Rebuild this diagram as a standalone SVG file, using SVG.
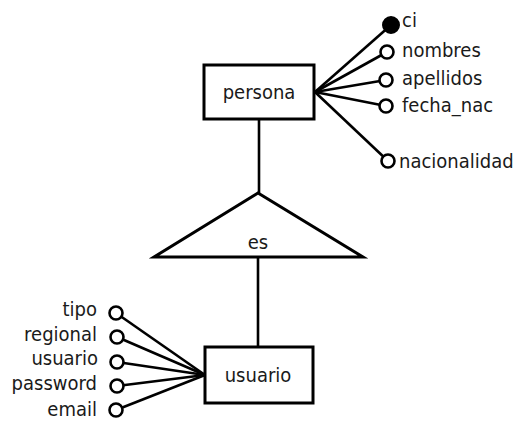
<svg xmlns="http://www.w3.org/2000/svg" width="520" height="421" viewBox="0 0 520 421">
  <style>
    .box { fill: #fff; stroke: #000; stroke-width: 3; }
    .tri { fill: #fff; stroke: #000; stroke-width: 3; stroke-linejoin: miter; }
    .edge { stroke: #000; stroke-width: 2.6; fill: none; }
    .attr { fill: #fff; stroke: #000; stroke-width: 2.6; }
    .key { fill: #000; stroke: #000; stroke-width: 2; }
    text { font-family: "DejaVu Sans Condensed", "DejaVu Sans", sans-serif; font-stretch: condensed; font-size: 20px; fill: #1a1a1a; }
    .mid { text-anchor: middle; }
    .end { text-anchor: end; }
  </style>
  <rect width="520" height="421" fill="#fff"/>

  <!-- connectors -->
  <g id="connectors">
    <line class="edge" x1="259" y1="119" x2="259" y2="193"/>
    <line class="edge" x1="258" y1="257" x2="258" y2="347"/>
    <!-- persona attributes -->
    <line class="edge" x1="315" y1="92" x2="391" y2="25"/>
    <line class="edge" x1="315" y1="92" x2="387" y2="52"/>
    <line class="edge" x1="315" y1="92" x2="386" y2="80"/>
    <line class="edge" x1="315" y1="92" x2="386" y2="106"/>
    <line class="edge" x1="315" y1="92" x2="388" y2="161"/>
    <!-- usuario attributes -->
    <line class="edge" x1="205" y1="375" x2="116" y2="313"/>
    <line class="edge" x1="205" y1="375" x2="117" y2="337"/>
    <line class="edge" x1="205" y1="375" x2="117" y2="362"/>
    <line class="edge" x1="205" y1="375" x2="117" y2="386"/>
    <line class="edge" x1="205" y1="375" x2="116" y2="410"/>
  </g>

  <g id="persona">
    <rect class="box" x="204" y="65" width="110" height="54"/>
    <text class="mid" x="259" y="99">persona</text>
  </g>

  <g id="es">
    <polygon class="tri" points="258,193 154,257 363,257"/>
    <text class="mid" x="258" y="249">es</text>
  </g>

  <g id="usuario">
    <rect class="box" x="205" y="347" width="108" height="56"/>
    <text class="mid" x="258" y="382">usuario</text>
  </g>

  <g id="attr-ci">
    <circle class="key" cx="391" cy="25" r="8"/>
    <text x="402" y="27">ci</text>
  </g>
  <g id="attr-nombres">
    <circle class="attr" cx="387" cy="52" r="6.5"/>
    <text x="402" y="57">nombres</text>
  </g>
  <g id="attr-apellidos">
    <circle class="attr" cx="386" cy="80" r="6.5"/>
    <text x="402" y="85">apellidos</text>
  </g>
  <g id="attr-fecha_nac">
    <circle class="attr" cx="386" cy="106" r="6.5"/>
    <text x="402" y="112">fecha_nac</text>
  </g>
  <g id="attr-nacionalidad">
    <circle class="attr" cx="388" cy="161" r="6.5"/>
    <text x="399" y="168">nacionalidad</text>
  </g>

  <g id="attr-tipo">
    <circle class="attr" cx="116" cy="313" r="6.5"/>
    <text class="end" x="97" y="316">tipo</text>
  </g>
  <g id="attr-regional">
    <circle class="attr" cx="117" cy="337" r="6.5"/>
    <text class="end" x="97" y="341">regional</text>
  </g>
  <g id="attr-usuario">
    <circle class="attr" cx="117" cy="362" r="6.5"/>
    <text class="end" x="98" y="365">usuario</text>
  </g>
  <g id="attr-password">
    <circle class="attr" cx="117" cy="386" r="6.5"/>
    <text class="end" x="97" y="390">password</text>
  </g>
  <g id="attr-email">
    <circle class="attr" cx="116" cy="410" r="6.5"/>
    <text class="end" x="97" y="416">email</text>
  </g>
</svg>
